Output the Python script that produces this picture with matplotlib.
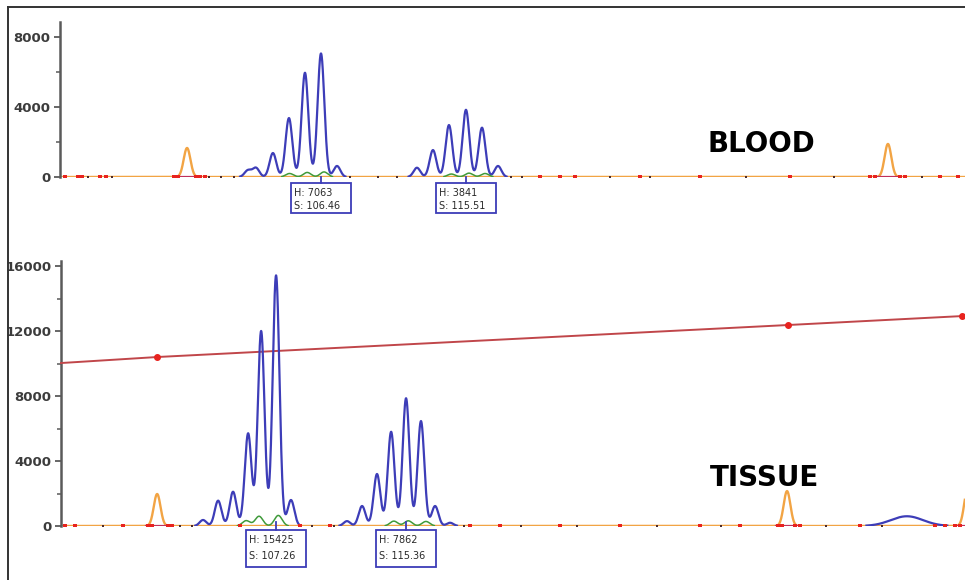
import numpy as np
import matplotlib
matplotlib.use("Agg")
import matplotlib.pyplot as plt
from matplotlib.lines import Line2D
from matplotlib.patches import Rectangle
from matplotlib.transforms import blended_transform_factory

# ---------------- data (fragment size in bp, peak height in RFU) ----------------
# BLOOD sample
blood_blue_pos = [101.9, 102.4, 103.46, 104.46, 105.46, 106.46, 107.46,
                  112.45, 113.45, 114.45, 115.51, 116.51, 117.51]
blood_blue_h = [380, 520, 1370, 3370, 5960, 7063, 630,
                530, 1540, 2970, 3841, 2820, 630]
blood_green_pos = [104.5, 105.6, 106.65, 114.6, 115.7, 116.7]
blood_green_h = [200, 260, 290, 170, 220, 200]
blood_orange_pos = [98.10, 141.85]
blood_orange_h = [1660, 1890]
blood_red_marks = [90.48, 91.29, 91.54, 92.66, 93.04, 97.28, 97.53, 98.66,
                   98.91, 99.22, 120.13, 121.38, 122.32, 126.37, 130.12,
                   135.74, 140.73, 141.04, 142.60, 142.91, 145.10, 146.22]
blood_dark_marks = [91.9, 93.4, 99.5, 100.2, 101.0, 108.3, 110.0, 111.2,
                    118.3, 119.0, 124.5, 127.0, 133.0, 138.5, 144.0]

# TISSUE sample
tissue_blue_pos = [102.71, 103.65, 104.58, 105.52, 106.33, 107.26, 108.19,
                   111.68, 112.62, 113.55, 114.43, 115.36, 116.29, 117.17, 118.10]
tissue_blue_h = [370, 1560, 2110, 5700, 12000, 15425, 1600,
                 300, 1230, 3200, 5800, 7862, 6460, 1230, 200]
tissue_broad_pos = [146.57]
tissue_broad_h = [600]
tissue_green_pos = [105.4, 106.2, 107.4, 114.6, 115.5, 116.6]
tissue_green_h = [330, 600, 650, 300, 320, 280]
tissue_orange_pos = [99.85, 139.10, 150.35]
tissue_orange_h = [1970, 2150, 2250]
tissue_red_marks = [94.11, 94.74, 97.73, 99.29, 99.53, 100.53, 100.78, 105.02,
                    108.76, 110.62, 119.35, 121.22, 124.95, 128.69, 133.68,
                    136.17, 138.54, 138.79, 139.60, 139.91, 143.65, 148.32,
                    148.94, 149.57, 149.88]
tissue_dark_marks = [96.5, 101.3, 102.0, 109.5, 110.9, 119.0, 122.5, 126.0,
                     131.0, 135.0, 141.5, 145.0]

# size-standard calibration line (TISSUE panel)
std_x = [93.86, 99.85, 139.16, 150.0]
std_y = [10030, 10400, 12370, 12920]

# called peaks: size (bp) and height (RFU)
blood_calls_size = [106.46, 115.51]
blood_calls_height = [7063, 3841]
tissue_calls_size = [107.26, 115.36]
tissue_calls_height = [15425, 7862]

# ---------------- styling ----------------
BLUE = "#3d3db8"
ORANGE = "#f2a444"
GREEN = "#3f9a3a"
RED = "#e8231f"
DARK = "#4a2a2a"
STD = "#c0464a"
AXIS_GREY = "#5a5a5a"
SIGMA = 0.21


def trace(x, pos, h, sigma):
    y = np.zeros_like(x)
    for p, a in zip(pos, h):
        y += a * np.exp(-0.5 * ((x - p) / sigma) ** 2)
    return y


def draw_panel(ax, xlim, ylim, blue, green, orange, red_marks, dark_marks,
               broad=None):
    x = np.linspace(xlim[0], xlim[1], 6000)
    # orange channel (baseline + size standard peaks)
    yo = trace(x, *orange, SIGMA)
    ax.plot(x, yo, color=ORANGE, lw=1.7, zorder=2, solid_capstyle="butt")
    # red/magenta trace sitting on the baseline under the standard peaks
    for p in orange[0]:
        ax.plot([p - 0.7, p + 0.7], [0, 0], color="#c0305a", lw=1.6, zorder=2.5)
    # blue channel
    yb = trace(x, *blue, SIGMA)
    if broad is not None:
        yb += trace(x, *broad, 1.0)
    yb = np.where(yb > 25, yb, np.nan)
    ax.plot(x, yb, color=BLUE, lw=1.6, zorder=3)
    # green channel
    yg = trace(x, *green, 0.24)
    yg = np.where(yg > 25, yg, np.nan)
    ax.plot(x, yg, color=GREEN, lw=1.1, zorder=4)
    # baseline noise marks
    ax.plot(red_marks, np.zeros(len(red_marks)), ls="none", marker="s",
            ms=2.4, color=RED, mew=0, zorder=5)
    ax.plot(dark_marks, np.zeros(len(dark_marks)), ls="none", marker="s",
            ms=1.8, color=DARK, mew=0, zorder=5)

    ax.set_xlim(*xlim)
    ax.set_ylim(*ylim)
    for s in ("top", "right", "bottom"):
        ax.spines[s].set_visible(False)
    ax.spines["left"].set_color(AXIS_GREY)
    ax.spines["left"].set_linewidth(1.8)
    ax.set_xticks([])
    ax.tick_params(axis="y", which="major", length=4, width=1.3,
                   color=AXIS_GREY, pad=3, labelsize=9.5, labelcolor="#3c3c3c")
    ax.tick_params(axis="y", which="minor", length=3, width=1.1, color=AXIS_GREY)
    ax.patch.set_alpha(0)


def call_boxes(ax, sizes, heights, gap, box_h, line1, line2, tick_up):
    """Peak-call boxes hung below the baseline; geometry given in pixels."""
    x0, x1 = ax.get_xlim()
    ppb = ax.bbox.width / (x1 - x0)      # pixels per bp
    axh = ax.bbox.height                 # axes height in pixels
    tr = blended_transform_factory(ax.transData, ax.transAxes)
    bw = 60.0
    for s, h in zip(sizes, heights):
        left = s - (bw / 2) / ppb
        ax.add_patch(Rectangle((left, -(gap + box_h) / axh), bw / ppb,
                               box_h / axh, transform=tr, fc="white",
                               ec=BLUE, lw=1.3, clip_on=False, zorder=6))
        ax.add_line(Line2D([s, s], [tick_up / axh, -gap / axh], transform=tr,
                           color=BLUE, lw=1.3, clip_on=False, zorder=6))
        tx = left + 3.0 / ppb
        ax.text(tx, -(gap + line1) / axh, f"H: {h}", transform=tr,
                ha="left", va="center", fontsize=7, color="#2a2a2a",
                family="DejaVu Sans", zorder=7, clip_on=False)
        ax.text(tx, -(gap + line2) / axh, f"S: {s:.2f}", transform=tr,
                ha="left", va="center", fontsize=7, color="#2a2a2a",
                family="DejaVu Sans", zorder=7, clip_on=False)


fig = plt.figure(figsize=(9.65, 5.8), dpi=100)
fig.patch.set_facecolor("white")

W, H = 965.0, 580.0
ax1 = fig.add_axes([60 / W, 1 - 177 / H, (W - 60) / W, 155 / H])
ax2 = fig.add_axes([61 / W, 1 - 526 / H, (W - 61) / W, 265 / H])

draw_panel(ax1, (90.17, 146.66), (0, 8860),
           (blood_blue_pos, blood_blue_h),
           (blood_green_pos, blood_green_h),
           (blood_orange_pos, blood_orange_h),
           blood_red_marks, blood_dark_marks)
ax1.set_yticks([0, 4000, 8000])
ax1.set_yticks([2000, 6000], minor=True)
for t in ax1.get_yticklabels():
    t.set_fontweight("bold")
call_boxes(ax1, blood_calls_size, blood_calls_height,
           gap=6, box_h=30, line1=10, line2=23, tick_up=0)

draw_panel(ax2, (93.86, 150.19), (0, 16310),
           (tissue_blue_pos, tissue_blue_h),
           (tissue_green_pos, tissue_green_h),
           (tissue_orange_pos, tissue_orange_h),
           tissue_red_marks, tissue_dark_marks,
           broad=(tissue_broad_pos, tissue_broad_h))
ax2.set_yticks([0, 4000, 8000, 12000, 16000])
ax2.set_yticks([2000, 6000, 10000, 14000], minor=True)
for t in ax2.get_yticklabels():
    t.set_fontweight("bold")
call_boxes(ax2, tissue_calls_size, tissue_calls_height,
           gap=4, box_h=37, line1=10, line2=26, tick_up=4)

# calibration curve with its anchor points
ax2.plot(std_x, std_y, color=STD, lw=1.4, zorder=2.8, clip_on=False,
         marker="o", ms=4, mfc=RED, mec=RED, markevery=[1, 2, 3])

# sample names
fig.text(708 / W, 1 - 152 / H, "BLOOD", fontsize=20, fontweight="bold",
         family="DejaVu Sans", ha="left", va="baseline", color="black")
fig.text(710 / W, 1 - 486 / H, "TISSUE", fontsize=20, fontweight="bold",
         family="DejaVu Sans", ha="left", va="baseline", color="black")

# outer frame (top and left edges)
fig.add_artist(Line2D([8 / W, 1], [1 - 6.5 / H, 1 - 6.5 / H],
                      transform=fig.transFigure, color="#333333", lw=1.4))
fig.add_artist(Line2D([8 / W, 8 / W], [0, 1 - 6.5 / H],
                      transform=fig.transFigure, color="#333333", lw=1.4))

fig.savefig("out.png", dpi=100)
